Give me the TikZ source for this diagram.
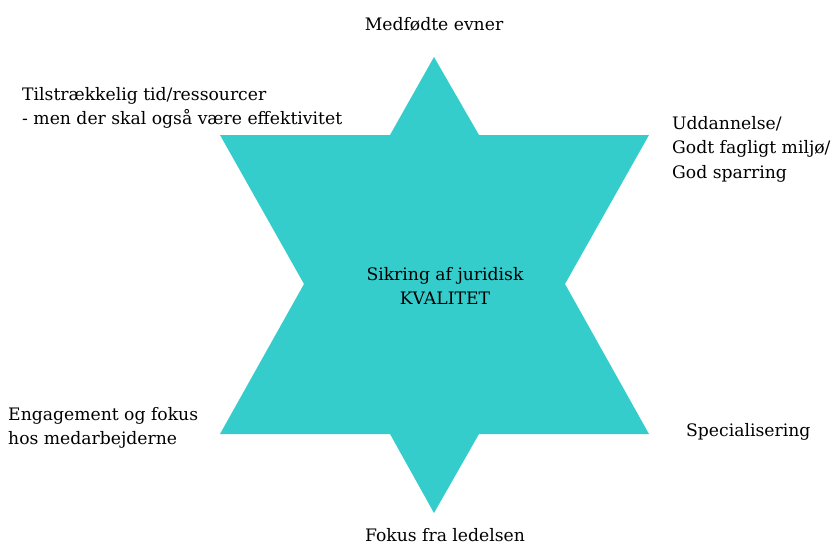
\documentclass[tikz,border=0pt]{standalone}
\usepackage{fontspec}
\setmainfont{DejaVu Serif}
\usepackage{tikz}
\definecolor{turkis}{RGB}{53,204,204}
\tikzset{lbl/.style={font=\fontsize{17.2}{24.5}\selectfont,align=left,inner sep=0pt}}

\begin{document}
\begin{tikzpicture}[x=1pt,y=-1pt]
		\useasboundingbox (0,0) rectangle (839,544);
		
		\fill[turkis] (434,57) -- (479,135) -- (649,135) -- (565,284) -- (649,434) -- (479,434)
			-- (434,513) -- (390,434) -- (220,434) -- (304,284) -- (220,135) -- (390,135) -- cycle;
		
		\node[lbl,align=center](mid)at(445,286) {Sikring af juridisk\\KVALITET};
		
		\node[lbl](top)at(434,24) {Medfødte evner};
		\node[lbl](bund)at(445,535) {Fokus fra ledelsen};
		\node[lbl,anchor=west](vo)at(22,108) {Tilstrækkelig tid/ressourcer\\- men der skal også være effektivitet};
		\node[lbl,anchor=west](ho)at(672,149) {Uddannelse/\\Godt fagligt miljø/\\God sparring};
		\node[lbl,anchor=west](vn)at(8,428) {Engagement og fokus\\hos medarbejderne};
		\node[lbl,anchor=west](hn)at(686,432) {Specialisering};
	\end{tikzpicture}
\end{document}
